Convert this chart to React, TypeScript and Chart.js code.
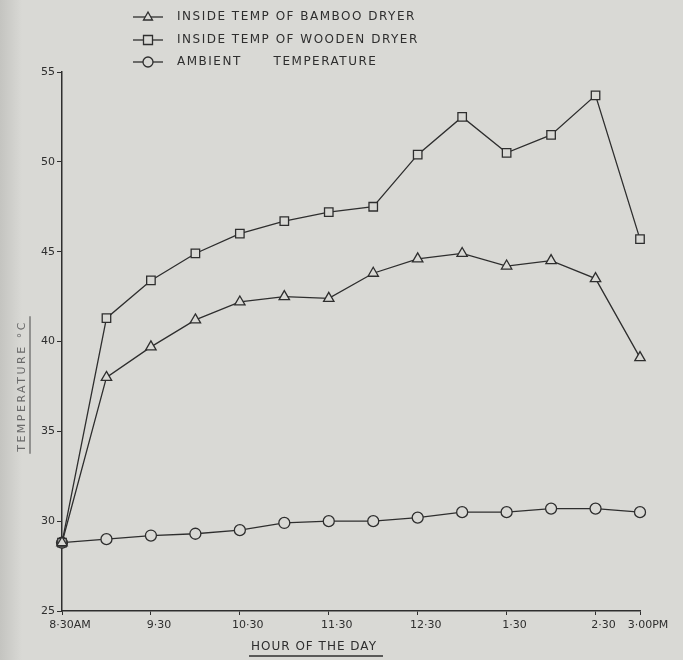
import React, { useEffect, useRef } from "react";
import { Chart, registerables } from "chart.js";

Chart.register(...registerables);

const timeLabels = ["8·30AM", "", "9·30", "", "10·30", "", "11·30", "", "12·30", "", "1·30", "", "2·30", "3·00PM"];
const bambooTemp = [28.8, 38.0, 39.7, 41.2, 42.2, 42.5, 42.4, 43.8, 44.6, 44.9, 44.2, 44.5, 43.5, 39.1];
const woodenTemp = [28.8, 41.3, 43.4, 44.9, 46.0, 46.7, 47.2, 47.5, 50.4, 52.5, 50.5, 51.5, 53.7, 45.7];
const ambientTemp = [28.8, 29.0, 29.2, 29.3, 29.5, 29.9, 30.0, 30.0, 30.2, 30.5, 30.5, 30.7, 30.7, 30.5];
const seriesNames = ["INSIDE TEMP OF BAMBOO DRYER", "INSIDE TEMP OF WOODEN DRYER", "AMBIENT      TEMPERATURE"];
const xTitle = "HOUR OF THE DAY";
const yTitle = "TEMPERATURE °C";

const PAPER = "#d9d9d5";
const INK = "#2e2e2e";
const FONT = "'DejaVu Sans', sans-serif";

function drawMarker(ctx: CanvasRenderingContext2D, style: string, x: number, y: number, r: number) {
  ctx.beginPath();
  if (style === "triangle") {
    ctx.moveTo(x, y - r);
    ctx.lineTo(x + r * 0.9, y + r * 0.6);
    ctx.lineTo(x - r * 0.9, y + r * 0.6);
    ctx.closePath();
  } else if (style === "rect") {
    ctx.rect(x - r, y - r, 2 * r, 2 * r);
  } else {
    ctx.arc(x, y, r, 0, Math.PI * 2);
  }
  ctx.fillStyle = PAPER;
  ctx.fill();
  ctx.stroke();
}

const decorPlugin = {
  id: "decor",
  afterDraw(chart: any) {
    const ctx: CanvasRenderingContext2D = chart.ctx;
    ctx.save();
    ctx.strokeStyle = INK;
    ctx.fillStyle = INK;
    ctx.lineWidth = 1.3;
    // legend
    const styles = ["triangle", "rect", "circle"];
    const rows = [17, 40, 62];
    const radii = [5, 4.5, 5];
    for (let i = 0; i < 3; i++) {
      const y = rows[i];
      ctx.strokeStyle = INK;
      ctx.beginPath();
      ctx.moveTo(133, y);
      ctx.lineTo(163, y);
      ctx.stroke();
      drawMarker(ctx, styles[i], 148, y, radii[i]);
      ctx.fillStyle = INK;
      ctx.font = `12px ${FONT}`;
      (ctx as any).letterSpacing = "1.5px";
      ctx.textAlign = "left";
      ctx.textBaseline = "middle";
      ctx.fillText(seriesNames[i], 177, y);
    }
    // x title
    (ctx as any).letterSpacing = "1px";
    ctx.font = `12px ${FONT}`;
    ctx.textAlign = "center";
    ctx.textBaseline = "middle";
    const xc = 314;
    ctx.fillText(xTitle, xc, 647);
    const w = ctx.measureText(xTitle).width;
    ctx.beginPath();
    ctx.moveTo(xc - w / 2 - 2, 656);
    ctx.lineTo(xc + w / 2 + 6, 656);
    ctx.stroke();
    // y title
    ctx.save();
    ctx.translate(22, 386);
    ctx.rotate(-Math.PI / 2);
    ctx.fillStyle = "#6a6a6a";
    ctx.strokeStyle = "#6a6a6a";
    ctx.font = `11px ${FONT}`;
    (ctx as any).letterSpacing = "2.5px";
    ctx.fillText(yTitle, 0, 0);
    const wy = ctx.measureText(yTitle).width;
    ctx.beginPath();
    ctx.moveTo(-wy / 2 - 2, 8);
    ctx.lineTo(wy / 2 + 4, 8);
    ctx.stroke();
    ctx.restore();
    ctx.restore();
  },
};

export default function App() {
  const ref = useRef<HTMLCanvasElement>(null);
  useEffect(() => {
    if (!ref.current) return;
    const common = {
      borderColor: INK,
      borderWidth: 1.3,
      pointBackgroundColor: PAPER,
      pointBorderColor: INK,
      pointBorderWidth: 1.3,
      tension: 0,
    };
    const chart = new Chart(ref.current, {
      type: "line",
      data: {
        labels: timeLabels,
        datasets: [
          { ...common, label: seriesNames[0], data: bambooTemp, pointStyle: "triangle", pointRadius: 6 },
          { ...common, label: seriesNames[1], data: woodenTemp, pointStyle: "rect", pointRadius: 6 },
          { ...common, label: seriesNames[2], data: ambientTemp, pointStyle: "circle", pointRadius: 5.5 },
        ],
      },
      options: {
        animation: false,
        responsive: false,
        layout: { padding: { left: 0, right: 43, top: 72, bottom: 0 } },
        plugins: { legend: { display: false }, tooltip: { enabled: false } },
        scales: {
          x: {
            type: "category",
            offset: false,
            afterFit: (s: any) => { s.height = 49; },
            border: { color: INK, width: 1.5 },
            grid: {
              drawOnChartArea: false,
              drawTicks: true,
              tickLength: 4,
              tickColor: (c: any) => (timeLabels[c.index] ? INK : "transparent"),
            },
            ticks: {
              autoSkip: false,
              maxRotation: 0,
              color: INK,
              font: { family: FONT, size: 11 },
              padding: 4,
              labelOffset: 8,
            },
          },
          y: {
            min: 25,
            max: 55,
            afterFit: (s: any) => { s.width = 62; },
            border: { color: INK, width: 1.5 },
            grid: { drawOnChartArea: false, drawTicks: true, tickLength: 5, tickColor: INK },
            ticks: { stepSize: 5, color: INK, font: { family: FONT, size: 11 }, padding: 2 },
          },
        },
      },
      plugins: [decorPlugin],
    } as any);
    return () => chart.destroy();
  }, []);
  return (
    <div
      style={{
        position: "absolute",
        left: 0,
        top: 0,
        width: 683,
        height: 660,
        background: `linear-gradient(to right, #c4c4c0 0px, ${PAPER} 22px, ${PAPER} 100%)`,
      }}
    >
      <canvas ref={ref} width={683} height={660} style={{ display: "block" }} />
    </div>
  );
}
